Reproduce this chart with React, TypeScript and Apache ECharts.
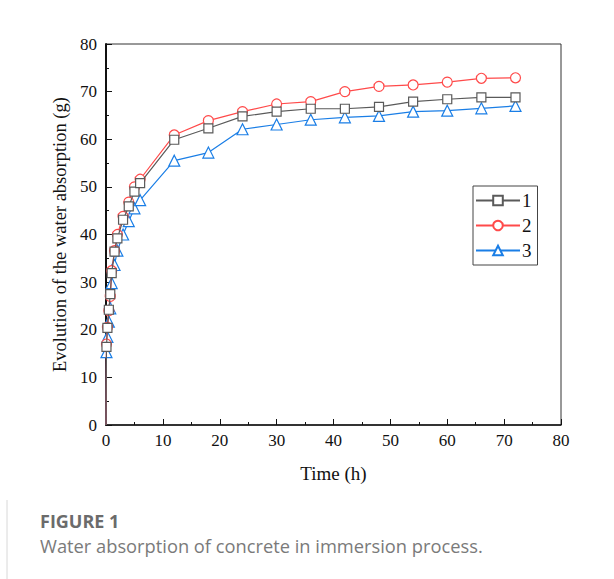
import React, { useEffect, useRef } from "react";
import * as echarts from "echarts";

const times = [0, 0.083, 0.25, 0.5, 0.75, 1, 1.5, 2, 3, 4, 5, 6, 12, 18, 24, 30, 36, 42, 48, 54, 60, 66, 72];
const series1 = [0, 16.4, 20.4, 24.2, 27.5, 31.9, 36.4, 39.2, 43.1, 45.9, 49.0, 50.8, 59.9, 62.3, 64.8, 65.8, 66.4, 66.4, 66.8, 67.9, 68.4, 68.8, 68.8];
const series2 = [0, 17.0, 20.5, 24.0, 27.0, 32.4, 36.6, 40.0, 43.8, 46.8, 50.0, 51.6, 60.9, 63.9, 65.8, 67.4, 67.9, 70.0, 71.1, 71.4, 72.0, 72.8, 72.9];
const series3 = [0, 15.3, 18.5, 21.7, 24.5, 29.8, 33.6, 36.6, 40.0, 42.8, 45.5, 47.2, 55.5, 57.2, 62.1, 63.1, 64.1, 64.6, 64.9, 65.8, 66.0, 66.5, 67.0];
const seriesNames = ["1", "2", "3"];
const xTicks = [0, 10, 20, 30, 40, 50, 60, 70, 80];
const yTicks = [0, 10, 20, 30, 40, 50, 60, 70, 80];

const colors = ["#5a5a5a", "#ff4a4a", "#1a7ee6"];
const symbols = ["rect", "circle", "triangle"];
const sizes = [9, 10, 11];

export default function App() {
  const ref = useRef<HTMLDivElement>(null);
  useEffect(() => {
    if (!ref.current) return;
    const chart = echarts.init(ref.current, null, { renderer: "svg" });
    const all = [series1, series2, series3];
    const serif = "'Liberation Serif', 'Times New Roman', serif";
    const tickRich = { t: { fontFamily: serif, fontSize: 17, color: "#111" } };
    chart.setOption({
      animation: false,
      backgroundColor: "#ffffff",
      grid: {
        left: 106,
        top: 44,
        width: 455,
        height: 381,
        show: true,
        borderColor: "#333",
        borderWidth: 1,
        backgroundColor: "transparent",
      },
      legend: {
        left: 473,
        top: 186,
        orient: "vertical",
        data: seriesNames,
        itemWidth: 44,
        itemHeight: 12,
        itemGap: 6,
        padding: [5, 6, 5, 2],
        borderColor: "#444",
        borderWidth: 1,
        textStyle: { fontFamily: serif, fontSize: 19, color: "#111", padding: [0, 0, 0, -3] },
      },
      xAxis: {
        type: "value",
        min: 0,
        max: 80,
        interval: 10,
        name: "Time (h)",
        nameLocation: "middle",
        nameGap: 39,
        nameTextStyle: { fontFamily: serif, fontSize: 19, color: "#111" },
        axisLine: { show: true, lineStyle: { color: "#111", width: 1.5 } },
        axisTick: { show: true, inside: true, length: 6, lineStyle: { color: "#111" } },
        minorTick: { show: true, splitNumber: 2, length: 3, lineStyle: { color: "#111" } },
        splitLine: { show: false },
        axisLabel: {
          fontFamily: serif,
          fontSize: 17,
          color: "#111",
          margin: 7,
          rich: tickRich,
          formatter: (v: number) => (xTicks.includes(v) ? `{t|${v}}` : ""),
        },
      },
      yAxis: {
        type: "value",
        min: 0,
        max: 80,
        interval: 10,
        name: "Evolution of the water absorption (g)",
        nameLocation: "middle",
        nameGap: 31,
        nameTextStyle: { fontFamily: serif, fontSize: 18.5, color: "#111" },
        axisLine: { show: true, lineStyle: { color: "#111", width: 2 } },
        axisTick: { show: true, inside: true, length: 6, lineStyle: { color: "#111" } },
        minorTick: { show: true, splitNumber: 2, length: 3, lineStyle: { color: "#111" } },
        splitLine: { show: false },
        axisLabel: {
          fontFamily: serif,
          fontSize: 17,
          color: "#111",
          margin: 9,
          rich: tickRich,
          formatter: (v: number) => (yTicks.includes(v) ? `{t|${v}}` : ""),
        },
      },
      series: all.map((vals, si) => ({
        name: seriesNames[si],
        type: "line",
        symbol: symbols[si],
        symbolSize: sizes[si],
        showAllSymbol: true,
        color: colors[si],
        lineStyle: { color: colors[si], width: 1.2 },
        itemStyle: { color: "#ffffff", borderColor: colors[si], borderWidth: 1.2 },
        data: vals.map((v, i) =>
          i === 0 ? { value: [times[i], v], symbol: "none" } : [times[i], v]
        ),
        z: 3 - si,
      })),
      graphic: [
        {
          type: "line",
          shape: { x1: 7, y1: 500, x2: 7, y2: 579 },
          style: { stroke: "#d8d8d8", lineWidth: 1 },
        },
        {
          type: "text",
          left: 40,
          top: 512,
          style: {
            text: "FIGURE 1",
            font: "700 18px 'Open Sans', sans-serif",
            fill: "#6b6b6b",
          },
        },
        {
          type: "text",
          left: 40,
          top: 536,
          style: {
            text: "Water absorption of concrete in immersion process.",
            font: "18.3px 'Open Sans', sans-serif",
            fill: "#7a7a7a",
          },
        },
      ],
    });
    return () => chart.dispose();
  }, []);
  return (
    <div
      ref={ref}
      style={{ position: "absolute", left: 0, top: 0, width: 614, height: 579 }}
    />
  );
}
